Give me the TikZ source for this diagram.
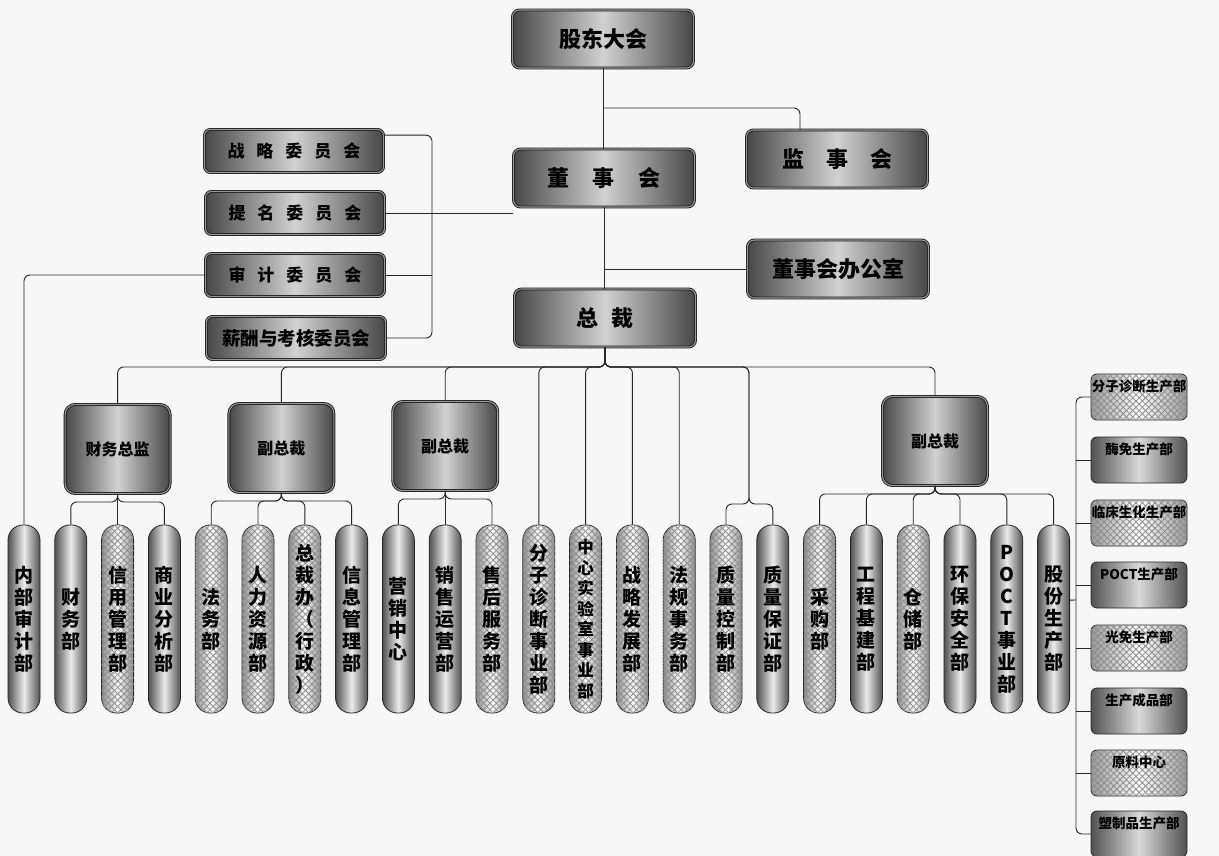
\documentclass[tikz,border=0pt]{standalone}
\usepackage{fontspec}
\newfontfamily\cjk{Noto Sans CJK SC}
\usetikzlibrary{patterns.meta,calc}
\newcommand{\fTop}{\cjk\bfseries\fontsize{22}{26}\selectfont}
\newcommand{\fCom}{\cjk\bfseries\fontsize{17}{20}\selectfont}
\newcommand{\fMid}{\cjk\bfseries\fontsize{16}{19}\selectfont}
\newcommand{\fCol}{\cjk\bfseries\fontsize{19}{22}\selectfont}
\newcommand{\fColS}{\cjk\bfseries\fontsize{16.5}{20.5}\selectfont}
\newcommand{\fProd}{\cjk\bfseries\fontsize{13.5}{16}\selectfont}
\tikzset{
  bx/.style={rounded corners=7pt, draw=black!90, line width=0.9pt, double=black!40, double distance=1.1pt,
     left color=black!72, right color=black!72, middle color=black!18, inner sep=0pt, align=center},
  topbox/.style={bx, minimum width=181pt, minimum height=58pt, font=\fTop},
  combox/.style={bx, rounded corners=6pt, minimum width=179pt, minimum height=43pt, font=\fCom},
  midbox/.style={bx, rounded corners=10pt, minimum width=105pt, minimum height=89pt, font=\fMid},
  colbase/.style={rounded corners=15pt, minimum width=32pt, minimum height=188pt, inner sep=0pt,
     draw=black!85, line width=0.8pt, align=center, font=\fCol},
  gcol/.style={colbase, left color=black!68, right color=black!68, middle color=black!8},
  pcol/.style={colbase, left color=black!45, right color=black!45, middle color=white,
     postaction={pattern={Lines[angle=45,distance=4.5pt,line width=0.8pt]}, pattern color=black!45},
     postaction={pattern={Lines[angle=-45,distance=4.5pt,line width=0.8pt]}, pattern color=black!45}},
  pbase/.style={rounded corners=6pt, minimum width=96pt, minimum height=46pt, inner sep=0pt,
     draw=black!85, line width=0.8pt, font=\fProd, text height=10pt, text depth=22pt},
  gprod/.style={pbase, left color=black!68, right color=black!68, middle color=black!15},
  pprod/.style={pbase, left color=black!40, right color=black!40, middle color=white,
     postaction={pattern={Lines[angle=45,distance=4.5pt,line width=0.8pt]}, pattern color=black!45},
     postaction={pattern={Lines[angle=-45,distance=4.5pt,line width=0.8pt]}, pattern color=black!45}},
  conn/.style={draw=black!85, line width=0.9pt, rounded corners=6pt}
}
\begin{document}
\begin{tikzpicture}[x=1pt,y=-1pt]
\fill[black!3] (0,0) rectangle (1219,856);
\useasboundingbox (0,0) rectangle (1219,856);

% top level
\node[topbox] (gd) at (603,39) {股东大会};
\node[topbox] (dsh) at (604,178) {董\hspace{24pt}事\hspace{24pt}会};
\node[topbox] (jsh) at (837,159) {监\hspace{22pt}事\hspace{22pt}会};
\node[topbox] (dban) at (838,269) {董事会办公室};
\node[topbox] (zc) at (605,318) {总\hspace{13pt}裁};

% committees
\node[combox] (zl) at (294,151) {战\hspace{12pt}略\hspace{12pt}委\hspace{12pt}员\hspace{12pt}会};
\node[combox] (tm) at (295,213) {提\hspace{12pt}名\hspace{12pt}委\hspace{12pt}员\hspace{12pt}会};
\node[combox] (sj) at (295,275) {审\hspace{12pt}计\hspace{12pt}委\hspace{12pt}员\hspace{12pt}会};
\node[combox, font=\cjk\bfseries\fontsize{18.5}{20}\selectfont] (xc) at (296,338) {薪酬与考核委员会};

% middle level
\node[midbox] (cw) at (117.6,449) {财务总监};
\node[midbox] (v1) at (281.4,448) {副总裁};
\node[midbox] (v2) at (445.2,446) {副总裁};
\node[midbox] (v4) at (935,441) {副总裁};

% columns
\node[gcol] (c0) at (24,619) {内\\部\\审\\计\\部};
\node[gcol] (c1) at (70.8,619) {财\\务\\部};
\node[pcol] (c2) at (117.6,619) {信\\用\\管\\理\\部};
\node[gcol] (c3) at (164.4,619) {商\\业\\分\\析\\部};
\node[pcol] (c4) at (211.2,619) {法\\务\\部};
\node[pcol] (c5) at (258,619) {人\\力\\资\\源\\部};
\node[pcol] (c6) at (304.8,619) {总\\裁\\办\\（\\行\\政\\）};
\node[gcol] (c7) at (351.6,619) {信\\息\\管\\理\\部};
\node[gcol] (c8) at (398.4,619) {营\\销\\中\\心};
\node[gcol] (c9) at (445.2,619) {销\\售\\运\\营\\部};
\node[pcol] (c10) at (492,619) {售\\后\\服\\务\\部};
\node[pcol] (c11) at (538.8,619) {分\\子\\诊\\断\\事\\业\\部};
\node[pcol, font=\fColS] (c12) at (585.6,619) {中\\心\\实\\验\\室\\事\\业\\部};
\node[pcol] (c13) at (632.4,619) {战\\略\\发\\展\\部};
\node[pcol] (c14) at (679.2,619) {法\\规\\事\\务\\部};
\node[pcol] (c15) at (726,619) {质\\量\\控\\制\\部};
\node[gcol] (c16) at (772.8,619) {质\\量\\保\\证\\部};
\node[pcol] (c17) at (819.6,619) {采\\购\\部};
\node[gcol] (c18) at (866.4,619) {工\\程\\基\\建\\部};
\node[pcol] (c19) at (913.2,619) {仓\\储\\部};
\node[gcol] (c20) at (960,619) {环\\保\\安\\全\\部};
\node[gcol] (c21) at (1006.8,619) {P\\O\\C\\T\\事\\业\\部};
\node[gcol] (c22) at (1053.6,619) {股\\份\\生\\产\\部};

% production units
\node[pprod] (p1) at (1139,397) {分子诊断生产部};
\node[gprod] (p2) at (1139,460) {酶免生产部};
\node[pprod] (p3) at (1139,523) {临床生化生产部};
\node[gprod] (p4) at (1139,585) {POCT生产部};
\node[pprod] (p5) at (1139,648) {光免生产部};
\node[gprod] (p6) at (1139,711) {生产成品部};
\node[pprod] (p7) at (1139,773) {原料中心};
\node[gprod] (p8) at (1139,834) {塑制品生产部};

% connectors: top
\coordinate (j1) at (603,108);
\draw[conn] (gd.south) -- (gd.south |- dsh.north);
\draw[conn] (j1) -| ([xshift=-37pt]jsh.north);
\draw[conn] (dsh.south) -- (dsh.south |- zc.north);
\draw[conn] (dban.west) -- (dban.west -| dsh.south);

% committees
\coordinate (cvb) at (432,338);
\draw[conn] ($(zl.north east)!0.14!(zl.south east)$) -| (cvb) -- (xc.east);
\draw[conn] (sj.east) -- (sj.east -| cvb);
\draw[conn] (tm.east) -- (tm.east -| dsh.west);
\draw[conn] (sj.west) -| (c0.north);

% from president
\coordinate (zb) at (605,367);
\foreach \t in {cw,v1,v2,c11,c12,c13,c14,v4}
  \draw[conn] (zc.south) -- (zb) -| (\t.north);
\coordinate (qb) at (749,504);
\draw[conn] (zc.south) -- (zb) -| (qb) -| (c15.north);
\draw[conn] (zc.south) -- (zb) -| (qb) -| (c16.north);

% sub groups
\coordinate (cwb) at ($(cw.south)+(0,8)$);
\foreach \t in {c1,c2,c3} \draw[conn] (cw.south) -- (cwb) -| (\t.north);
\coordinate (v1b) at ($(v1.south)+(0,8)$);
\foreach \t in {c4,c5,c6,c7} \draw[conn] (v1.south) -- (v1b) -| (\t.north);
\coordinate (v2b) at ($(v2.south)+(0,8)$);
\foreach \t in {c8,c9,c10} \draw[conn] (v2.south) -- (v2b) -| (\t.north);
\coordinate (v4b) at ($(v4.south)+(0,8)$);
\foreach \t in {c17,c18,c19,c20,c21,c22} \draw[conn] (v4.south) -- (v4b) -| (\t.north);

% production bracket
\coordinate (pt) at (1076,600);
\draw[conn] (p1.west) -- (p1.west -| pt) -- (p8.west -| pt) -- (p8.west);
\foreach \t in {p2,p3,p4,p5,p6,p7} \draw[conn] (\t.west -| pt) -- (\t.west);
\draw[conn] ($(c22.north east)!0.4!(c22.south east)$) -- (pt);
\end{tikzpicture}
\end{document}
